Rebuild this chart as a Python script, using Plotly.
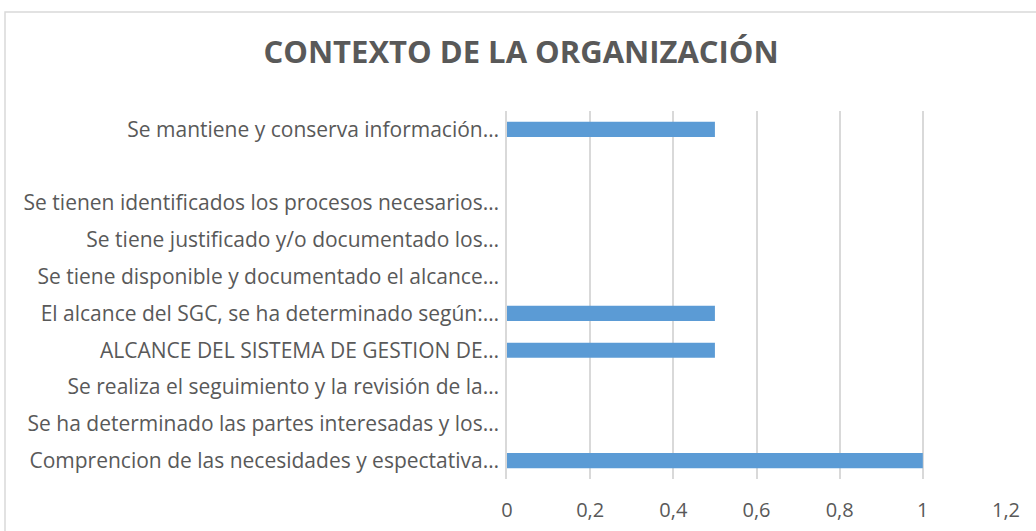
import plotly.graph_objects as go

categories = [
    "Comprencion de las necesidades y espectativa…",
    "Se ha determinado las partes interesadas y los…",
    "Se realiza el seguimiento y la revisión de la…",
    "ALCANCE DEL SISTEMA DE GESTION DE…",
    "El alcance del SGC, se ha determinado según:…",
    "Se tiene disponible y documentado el alcance…",
    "Se tiene justificado y/o documentado los…",
    "Se tienen identificados los procesos necesarios…",
    " ",
    "Se mantiene y conserva información…",
]
values = [1, 0, 0, 0.5, 0.5, 0, 0, 0, 0, 0.5]
x_ticks = [0, 0.2, 0.4, 0.6, 0.8, 1, 1.2]
x_labels = ["0", "0,2", "0,4", "0,6", "0,8", "1", "1,2"]

FONT = "Open Sans"
TXT = "#595959"
GRID = "#d9d9d9"

fig = go.Figure(
    go.Bar(
        x=values,
        y=categories,
        orientation="h",
        marker=dict(color="#5B9BD5", line=dict(width=0)),
    )
)

fig.update_layout(
    width=1036,
    height=531,
    paper_bgcolor="white",
    plot_bgcolor="white",
    margin=dict(l=507, r=30, t=111, b=52, autoexpand=False),
    bargap=0.59,
    showlegend=False,
    title=dict(
        text="<b>CONTEXTO DE LA ORGANIZACIÓN</b>",
        x=0.503,
        xref="container",
        xanchor="center",
        y=1 - 52 / 531,
        yref="container",
        yanchor="middle",
        font=dict(family=FONT, size=31, color=TXT),
    ),
    font=dict(family=FONT, size=21, color=TXT),
    shapes=[
        dict(
            type="rect",
            xref="paper",
            yref="paper",
            x0=-1.006,
            x1=1.2,
            y0=-0.3,
            y1=1.269,
            line=dict(color=GRID, width=1.5),
            fillcolor="rgba(0,0,0,0)",
            layer="below",
        )
    ],
)

fig.update_xaxes(
    range=[0, 1.2],
    tickvals=x_ticks,
    ticktext=x_labels,
    showgrid=True,
    gridcolor=GRID,
    gridwidth=1.5,
    zeroline=False,
    showline=False,
    automargin=False,
    tickfont=dict(family=FONT, size=20, color=TXT),
    ticks="",
    ticklabelstandoff=17,
)
fig.update_yaxes(
    type="category",
    categoryorder="array",
    categoryarray=categories,
    showgrid=False,
    showline=True,
    linecolor=GRID,
    linewidth=1.5,
    automargin=False,
    ticks="",
    ticklabelstandoff=2,
    tickfont=dict(family=FONT, size=21, color=TXT),
)

fig.write_html(
    "out.html",
    config={"displayModeBar": False},
    post_script="document.body.style.margin='0';",
)
